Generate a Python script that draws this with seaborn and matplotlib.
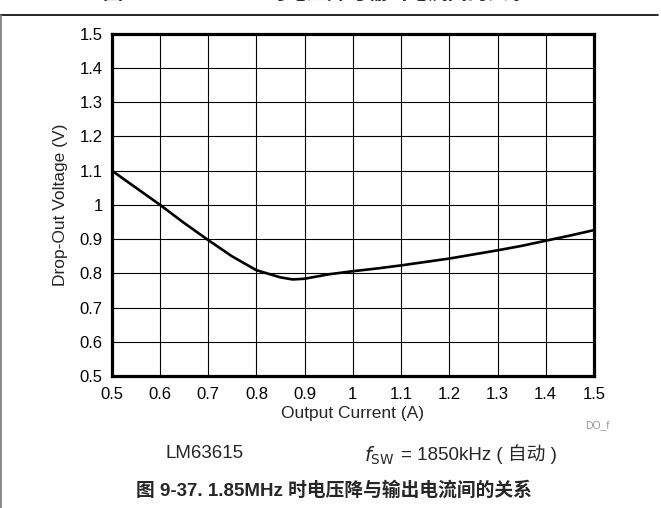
import numpy as np
import pandas as pd
import matplotlib
matplotlib.use("Agg")
import matplotlib.pyplot as plt
import seaborn as sns

# Drop-out voltage vs output current
current = [0.50, 0.55, 0.60, 0.65, 0.70, 0.75, 0.80, 0.85, 0.875, 0.90, 0.95,
           1.00, 1.05, 1.10, 1.15, 1.20, 1.25, 1.30, 1.35, 1.40, 1.45, 1.50]
dropout = [1.100, 1.050, 1.000, 0.947, 0.897, 0.849, 0.809, 0.788, 0.782, 0.784, 0.797,
           0.806, 0.814, 0.823, 0.833, 0.843, 0.855, 0.867, 0.880, 0.895, 0.910, 0.926]

x_ticks = [0.5, 0.6, 0.7, 0.8, 0.9, 1, 1.1, 1.2, 1.3, 1.4, 1.5]
x_labels = ["0.5", "0.6", "0.7", "0.8", "0.9", "1", "1.1", "1.2", "1.3", "1.4", "1.5"]
y_ticks = [0.5, 0.6, 0.7, 0.8, 0.9, 1, 1.1, 1.2, 1.3, 1.4, 1.5]
y_labels = ["0.5", "0.6", "0.7", "0.8", "0.9", "1", "1.1", "1.2", "1.3", "1.4", "1.5"]

df = pd.DataFrame({"current": current, "dropout": dropout})

sns.set_style("white")
plt.rcParams["font.family"] = ["Liberation Sans", "Noto Sans CJK SC", "DejaVu Sans"]

fig = plt.figure(figsize=(6.61, 5.08), dpi=100)
ax = fig.add_axes([0.169, 0.2598, 0.7296, 0.6742])

sns.lineplot(data=df, x="current", y="dropout", color="black", linewidth=1.9, ax=ax)

ax.set_xlim(0.5, 1.5)
ax.set_ylim(0.5, 1.5)
ax.set_xticks(x_ticks)
ax.set_xticklabels(x_labels)
ax.set_yticks(y_ticks)
ax.set_yticklabels(y_labels)
ax.tick_params(length=0, labelsize=12, colors="black")
ax.tick_params(axis="x", pad=8)
ax.tick_params(axis="y", pad=6.5)
ax.grid(True, color="black", linewidth=0.8)
for s in ax.spines.values():
    s.set_color("black")
    s.set_linewidth(2.3)
ax.set_xlabel("Output Current (A)", fontsize=12.5, labelpad=3)
ax.set_ylabel("Drop-Out Voltage (V)", fontsize=12.5, labelpad=8)

fig.text(0.904, 0.163, "DO_f", fontsize=7.5, color="#999999", ha="center", va="center")
fig.text(0.31, 0.108, "LM63615", fontsize=13.5, ha="center", va="center")
fig.text(0.574, 0.102, r"$f_{\mathrm{SW}}$", fontsize=14, ha="center", va="center")
fig.text(0.606, 0.106, "= 1850kHz ( 自动 )", fontsize=13.5, ha="left", va="center")
fig.text(0.505, 0.035, "图 9-37. 1.85MHz 时电压降与输出电流间的关系", fontsize=13.5,
         fontweight="bold", ha="center", va="center")
# clipped caption of the previous figure at the very top
fig.text(0.478, 1.014, "图 9-36. 1.85MHz 时电压降与输出电流间的关系", fontsize=14.5,
         fontweight="bold", ha="center", va="center")

# page frame lines
fig.add_artist(plt.Line2D([0, 0.995], [0.971, 0.971], transform=fig.transFigure,
                          color="black", linewidth=1.2))
fig.add_artist(plt.Line2D([0.001, 0.001], [0, 0.971], transform=fig.transFigure,
                          color="#777777", linewidth=1.2))

fig.savefig("out.png", dpi=100)
